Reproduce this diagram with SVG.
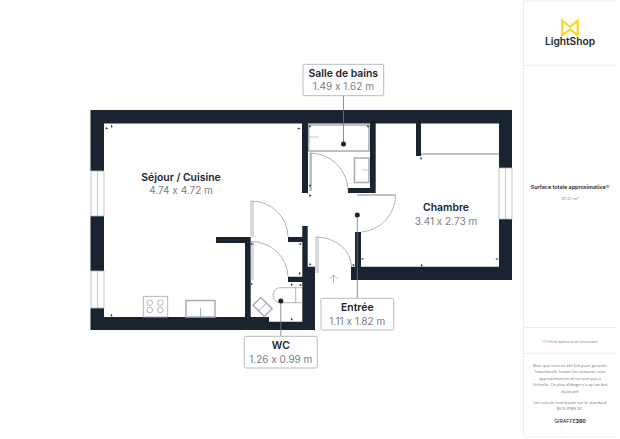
<svg xmlns="http://www.w3.org/2000/svg" width="620" height="439" viewBox="0 0 620 439">
<style>
text{font-family:"Inter","Liberation Sans",sans-serif;text-anchor:middle;font-feature-settings:"calt" 0;font-variant-ligatures:no-contextual}
.n{font-size:10.4px;font-weight:600;fill:#1c2532}
.d{font-size:10px;fill:#7b8087}
.s{font-family:"Open Sans","Liberation Sans",sans-serif;font-size:4.2px;fill:#6e747c}
.w{fill:#1a2431}
.f{fill:none;stroke:#eceded;stroke-width:1}
.g{fill:none;stroke:#b4b7bb;stroke-width:.8}
.t{fill:none;stroke:#a9adb2;stroke-width:1.5}
.a{fill:none;stroke:#8f9399;stroke-width:.7}
.b{fill:#fff;stroke:#a3a7ac;stroke-width:.8}
.l{stroke:#6f757c;stroke-width:.8}
.m{fill:#1a2431}
</style>
<defs><path id="k" d="M-1.1 0L1.1 0L0 -1.8ZM-.3 0H.3V1.2H-.3Z" class="m"/></defs>
<rect width="620" height="439" fill="#fff"/>
<g id="sidebar">
<path class="f" d="M523.5 1V437M523.5 1H616M523.5 65.5H616M523.5 327.5H616M523.5 353.5H616M523.5 437H616"/>
</g>
<g id="logo">
<path fill="none" stroke="#fdd526" stroke-width="2.2" d="M562.3 35V20.5L570 27L577.7 20.5V35L570 29.5Z"/>
<text x="570" y="45" font-size="10.2" font-weight="600" fill="#1c2532">LightShop</text>
</g>
<g id="walls">
<path class="w" d="M90.5 110H512V168H499V123.5H421V156H416V123.5H375.7V193H348V188H370V123.5H308V193H302V123.5H104V171H90.5Z"/>
<rect class="w" x="90.5" y="216" width="13.5" height="55"/>
<path class="w" d="M90.5 308H104V317H245V243H216V237H250.7V317H269V321.7H302.3V282H288V276.7H302.3V242H288V237H302.3V226H307.7V266.7H315V330H90.5Z"/>
<path class="w" d="M499 219H512V280H351V266.7H355V232H361V266.7H499Z"/>
</g>
<g id="windows" class="g">
<rect x="91" y="171" width="13" height="45"/><path d="M97.5 171V216"/>
<rect x="91" y="271" width="13" height="37"/><path d="M97.5 271V308"/>
<rect x="499" y="168" width="13" height="51"/><path d="M505.5 168V219"/>
</g>
<g id="doors">
<path class="a" d="M251 237V201A37 36 0 0 1 288 237M253 201V237"/>
<path class="a" d="M251 280V241.5A37 36 0 0 1 288 277M253 241.5V280"/>
<path class="a" d="M316 273V237A35.5 30 0 0 1 351.5 267M318 237V273"/>
<path class="a" d="M310 191V153A38 38 0 0 1 348 191"/>
<path class="t" d="M311 153V191"/>
<path class="t" d="M357 195H395.5"/>
<path class="a" d="M395.5 195A37 37 0 0 1 361 232"/>
<path class="t" d="M421 154H499"/>
<path class="a" d="M333.5 283V275M329.5 279L333.5 275L337.5 279"/>
</g>
<g id="fixtures">
<rect class="t" x="308.7" y="125" width="60.3" height="26"/>
<path class="g" d="M309 137H319"/>
<rect class="t" x="354.5" y="158" width="14.5" height="24.5"/>
<path class="g" d="M362 170H369"/>
<rect class="b" x="143.3" y="296.3" width="24.4" height="20.7"/>
<g class="a"><circle cx="149.7" cy="302.7" r="2.8"/><circle cx="160.3" cy="302.7" r="2.8"/><circle cx="149.7" cy="310" r="2.8"/><circle cx="160.3" cy="310" r="2.8"/></g>
<rect class="t" x="186" y="300.5" width="29" height="16.5"/>
<path class="a" d="M200.5 308V317"/>
<g transform="rotate(45 262.6 307)"><rect class="t" x="254.6" y="301.5" width="16" height="11"/><path class="a" d="M262.6 301.5V312.5"/></g>
<path class="a" d="M302 287.7H280.5A7.5 7.5 0 0 0 280.5 302.7H302M295.7 287.7V302.7"/>
</g>
<g id="ticks">
<use href="#k" transform="translate(111.7 126)rotate(180)"/><use href="#k" transform="translate(107 128.3)rotate(-90)"/>
<use href="#k" transform="translate(298.5 128.5)rotate(90)"/>
<use href="#k" transform="translate(310 126)rotate(180)"/><use href="#k" transform="translate(368 126)rotate(180)"/>
<use href="#k" transform="translate(310 186)"/><use href="#k" transform="translate(310 196)"/>
<use href="#k" transform="translate(421 158.5)"/>
<use href="#k" transform="translate(111.5 315)rotate(180)"/>
<use href="#k" transform="translate(252 244)rotate(-90)"/><use href="#k" transform="translate(300 244)rotate(90)"/>
<use href="#k" transform="translate(252 284)rotate(-90)"/><use href="#k" transform="translate(291.7 285)"/>
<use href="#k" transform="translate(300 285)rotate(90)"/><use href="#k" transform="translate(299.7 273.7)"/>
<use href="#k" transform="translate(310 264)rotate(180)"/><use href="#k" transform="translate(353 265)rotate(90)"/>
<use href="#k" transform="translate(363 259)rotate(-90)"/><use href="#k" transform="translate(421.7 265)rotate(180)"/>
<use href="#k" transform="translate(496.7 259)rotate(90)"/><use href="#k" transform="translate(291.7 319)rotate(180)"/>
</g>
<g id="connectors">
<path class="l" d="M343.5 95.7V144M357.3 215V298.3M280.8 301V336.3"/>
<circle cx="343.5" cy="144" r="2.5" fill="#1a2431"/><circle cx="357.3" cy="215" r="2.5" fill="#1a2431"/><circle cx="280.8" cy="301" r="2.5" fill="#1a2431"/>
</g>
<g id="salle-de-bains">
<rect class="b" x="303" y="64.3" width="80.7" height="31.4" rx="1.5"/>
<text class="n" x="343.3" y="76.5">Salle de bains</text><text class="d" x="343.3" y="90">1.49 x 1.62 m</text>
</g>
<g id="entree">
<rect class="b" x="321" y="298.3" width="72.7" height="31.7" rx="1.5"/>
<text class="n" x="357.3" y="311">Entrée</text><text class="d" x="357.3" y="325">1.11 x 1.82 m</text>
</g>
<g id="wc">
<rect class="b" x="244.3" y="336.3" width="73" height="31.7" rx="1.5"/>
<text class="n" x="280.8" y="349">WC</text><text class="d" x="280.8" y="363">1.26 x 0.99 m</text>
</g>
<g id="sejour">
<text class="n" x="181" y="180.5">Séjour / Cuisine</text><text class="d" x="181" y="194">4.74 x 4.72 m</text>
</g>
<g id="chambre">
<text class="n" x="446" y="211">Chambre</text><text class="d" x="446" y="224.5">3.41 x 2.73 m</text>
</g>
<g id="surface">
<text x="570" y="189" font-size="5.4" font-weight="600" fill="#1c2532">Surface totale approximative<tspan font-size="3.2" dy="-1.5">(1)</tspan></text>
<text class="s" x="570" y="199.5">37.31 m²</text>
</g>
<g id="notes">
<text class="s" x="570" y="342.5">(1) Hors balcons et terrasses</text>
<text class="s" x="570" y="366.5">Bien que tout ait été fait pour garantir</text>
<text class="s" x="570" y="373">l'exactitude, toutes les mesures sont</text>
<text class="s" x="570" y="379.5">approximatives et ne sont pas à</text>
<text class="s" x="570" y="386">l'échelle. Ce plan d'étage n'a qu'un but</text>
<text class="s" x="570" y="392.5">illustratif.</text>
<text class="s" x="570" y="403.5">Les calculs sont basés sur le standard</text>
<text class="s" x="570" y="410">RICS IPMS 3C.</text>
<text x="570" y="422.5" font-size="5.2" fill="#1c2532">GIRAFFE<tspan font-weight="700">360</tspan></text>
</g>
</svg>
